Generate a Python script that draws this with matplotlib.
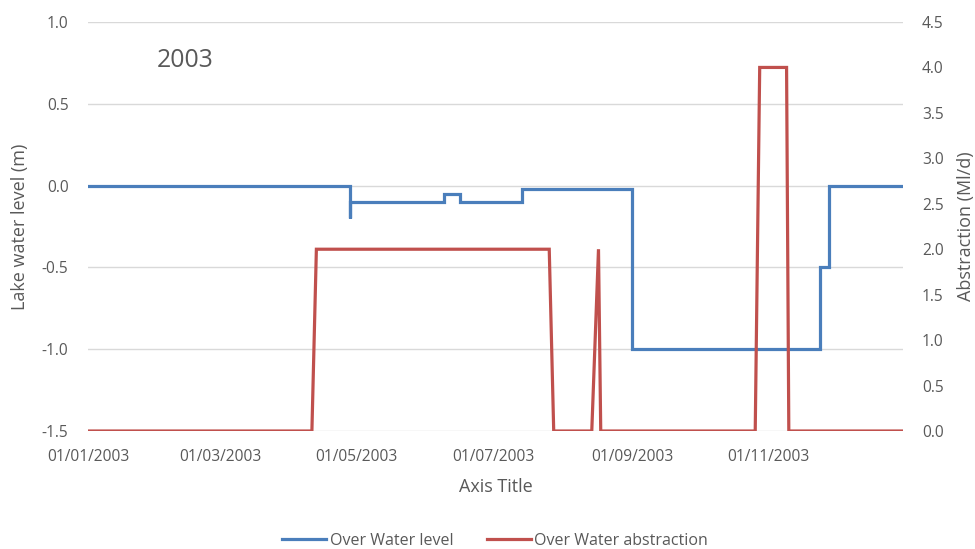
import pandas as pd
import matplotlib.pyplot as plt
import matplotlib.dates as mdates

# Lake water level (m) - step vertices
level_dates = ['2003-01-01', '2003-04-28', '2003-04-28', '2003-04-28', '2003-06-09',
               '2003-06-09', '2003-06-16', '2003-06-16', '2003-07-14', '2003-07-14',
               '2003-09-01', '2003-09-01', '2003-11-24', '2003-11-24', '2003-11-28',
               '2003-11-28', '2003-12-31']
level_vals = [0.0, 0.0, -0.2, -0.1, -0.1,
              -0.05, -0.05, -0.1, -0.1, -0.02,
              -0.02, -1.0, -1.0, -0.5, -0.5,
              0.0, 0.0]

# Abstraction (Ml/d)
abs_dates = ['2003-01-01', '2003-04-11', '2003-04-13', '2003-07-26', '2003-07-28',
             '2003-08-14', '2003-08-17', '2003-08-18', '2003-10-26', '2003-10-28',
             '2003-11-09', '2003-11-10', '2003-12-31']
abs_vals = [0.0, 0.0, 2.0, 2.0, 0.0,
            0.0, 2.0, 0.0, 0.0, 4.0,
            4.0, 0.0, 0.0]

x_ticks = ['2003-01-01', '2003-03-01', '2003-05-01', '2003-07-01', '2003-09-01', '2003-11-01']

level_dates = pd.to_datetime(level_dates)
abs_dates = pd.to_datetime(abs_dates)
x_ticks = pd.to_datetime(x_ticks)

plt.rcParams['font.family'] = ['Open Sans', 'DejaVu Sans']
grey = '#595959'
blue = '#4A7EBB'
red = '#C0504D'

fig = plt.figure(figsize=(9.75, 5.49), dpi=100)
ax1 = fig.add_axes([88 / 975, 1 - 431 / 549, (903 - 88) / 975, (431 - 22) / 549])
ax2 = ax1.twinx()

l1, = ax1.plot(level_dates, level_vals, color=blue, lw=2.3, solid_joinstyle='miter', zorder=3)
l2, = ax2.plot(abs_dates, abs_vals, color=red, lw=2.3, solid_joinstyle='miter', zorder=3)

ax1.set_xlim(pd.Timestamp('2003-01-01'), pd.Timestamp('2003-12-31'))
ax1.set_ylim(-1.5, 1.0)
ax2.set_ylim(0, 4.5)
ax1.set_yticks([-1.5, -1.0, -0.5, 0.0, 0.5, 1.0])
ax2.set_yticks([0, 0.5, 1, 1.5, 2, 2.5, 3, 3.5, 4, 4.5])
ax1.yaxis.set_major_formatter(plt.FormatStrFormatter('%.1f'))
ax2.yaxis.set_major_formatter(plt.FormatStrFormatter('%.1f'))
ax1.set_xticks(x_ticks)
ax1.xaxis.set_major_formatter(mdates.DateFormatter('%d/%m/%Y'))

ax1.grid(axis='y', color='#D9D9D9', lw=1)
ax1.set_axisbelow(True)
for ax in (ax1, ax2):
    for s in ax.spines.values():
        s.set_visible(False)
    ax.tick_params(length=0, labelsize=11.2, labelcolor=grey)
ax1.tick_params(axis='x', pad=13)
ax1.tick_params(axis='y', pad=14)
ax2.tick_params(axis='y', pad=13.5)

ax1.set_xlabel('Axis Title', color=grey, fontsize=13, labelpad=9)
ax1.set_ylabel('Lake water level (m)', color=grey, fontsize=13, labelpad=9)
ax2.set_ylabel('Abstraction (Ml/d)', color=grey, fontsize=13, labelpad=10)

ax1.text(0.0847, 0.905, '2003', transform=ax1.transAxes, fontsize=17.8, color=grey,
         ha='left', va='center')

fig.legend([l1, l2], ['Over Water level', 'Over Water abstraction'],
           loc='center', bbox_to_anchor=(495 / 975, 1 - 541 / 549), ncol=2, frameon=False,
           fontsize=11.5, labelcolor=grey, handlelength=2.75, columnspacing=2.1,
           handletextpad=0.2)

fig.savefig('out.png', dpi=100)
